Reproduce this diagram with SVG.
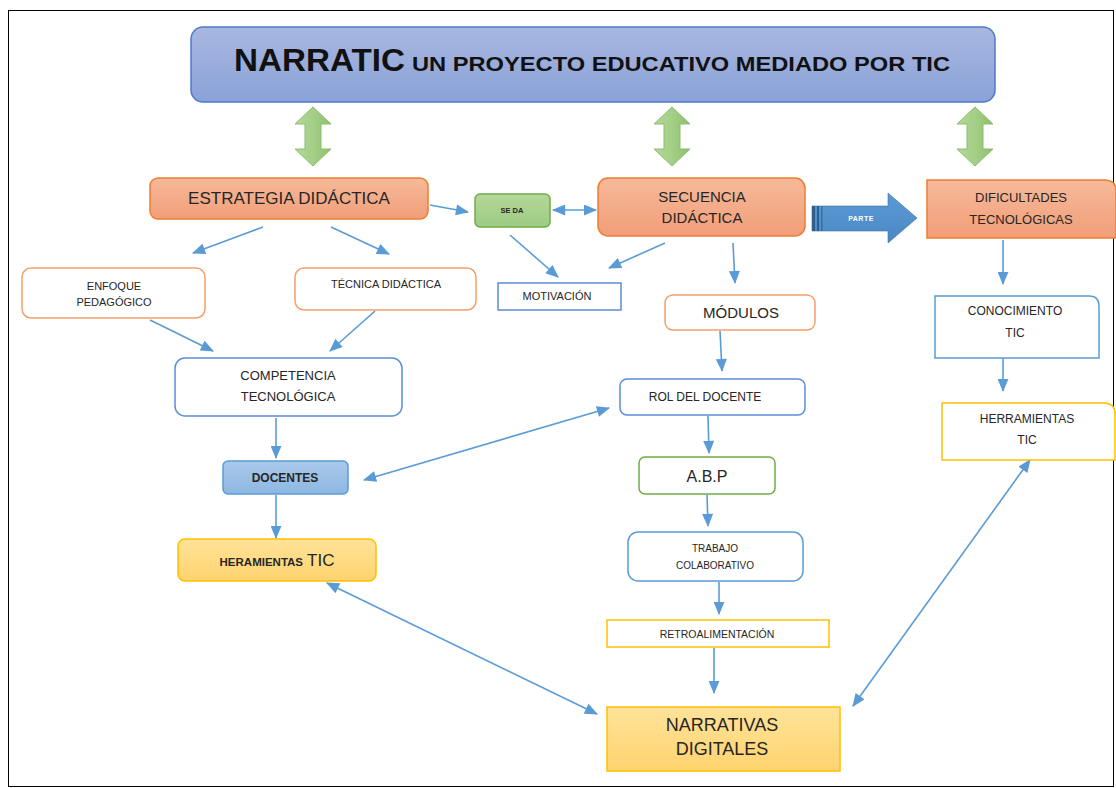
<svg xmlns="http://www.w3.org/2000/svg" width="1116" height="788" viewBox="0 0 1116 788">
<defs>
<linearGradient id="gTitle" x1="0" y1="0" x2="0" y2="1"><stop offset="0" stop-color="#a9b7e0"/><stop offset="1" stop-color="#8aa2d8"/></linearGradient>
<linearGradient id="gSalmon" x1="0" y1="0" x2="0" y2="1"><stop offset="0" stop-color="#f6b99a"/><stop offset="1" stop-color="#f29e78"/></linearGradient>
<linearGradient id="gGreen" x1="0" y1="0" x2="1" y2="0"><stop offset="0" stop-color="#b5d89c"/><stop offset="0.5" stop-color="#a3cf86"/><stop offset="1" stop-color="#8ec06e"/></linearGradient>
<linearGradient id="gSeda" x1="0" y1="0" x2="0" y2="1"><stop offset="0" stop-color="#b3d79b"/><stop offset="1" stop-color="#9fcb82"/></linearGradient>
<linearGradient id="gBlue" x1="0" y1="0" x2="0" y2="1"><stop offset="0" stop-color="#aac9ea"/><stop offset="1" stop-color="#8db7e2"/></linearGradient>
<linearGradient id="gYellow" x1="0" y1="0" x2="0" y2="1"><stop offset="0" stop-color="#ffe39a"/><stop offset="1" stop-color="#ffd36e"/></linearGradient>
<linearGradient id="gParte" x1="0" y1="0" x2="0" y2="1"><stop offset="0" stop-color="#5b9bd5"/><stop offset="1" stop-color="#4a88c4"/></linearGradient>
<marker id="ahb" viewBox="0 0 12 10" refX="11" refY="5" markerWidth="14" markerHeight="11" orient="auto-start-reverse" markerUnits="userSpaceOnUse"><path d="M0,0 L12,5 L0,10 z" fill="#5b9bd5"/></marker>
</defs>
<style>
.t{font-family:"Liberation Sans",Arial,sans-serif;fill:#262626;text-anchor:middle}
.c{stroke:#5b9bd5;stroke-width:1.6;fill:none;marker-end:url(#ahb)}
.d{stroke:#5b9bd5;stroke-width:1.6;fill:none;marker-end:url(#ahb);marker-start:url(#ahb)}
.ga{fill:url(#gGreen);stroke:#8bbd6b;stroke-width:1}
.sal{fill:url(#gSalmon);stroke:#ed7d31;stroke-width:1.5}
.wo{fill:#fff;stroke:#f4a06b;stroke-width:1.5}
.wb{fill:#fff;stroke:#5b8fd6;stroke-width:1.5}
.wy{fill:#fff;stroke:#ffc000;stroke-width:1.5}
</style>
<rect x="8.5" y="10.5" width="1105" height="776" fill="#fff" stroke="#000" stroke-width="1"/>

<g id="title">
<rect x="191" y="27" width="804" height="75" rx="12" fill="url(#gTitle)" stroke="#4f7ac7" stroke-width="1.5"/>
<text x="234" y="71" style="font-family:'Liberation Sans',Arial,sans-serif;font-weight:bold;fill:#111;font-size:31px" textLength="171" lengthAdjust="spacingAndGlyphs">NARRATIC</text>
<text x="412" y="71" style="font-family:'Liberation Sans',Arial,sans-serif;font-weight:bold;fill:#111;font-size:21px" textLength="538" lengthAdjust="spacingAndGlyphs">UN PROYECTO EDUCATIVO MEDIADO POR TIC</text>
</g>

<g id="green-arrows">
<path class="ga" d="M313,107 L331,124 L321,124 L321,149 L331,149 L313,166 L295,149 L305,149 L305,124 L295,124 Z"/>
<path class="ga" d="M672,107 L690,124 L680,124 L680,149 L690,149 L672,166 L654,149 L664,149 L664,124 L654,124 Z"/>
<path class="ga" d="M975,107 L993,124 L983,124 L983,149 L993,149 L975,166 L957,149 L967,149 L967,124 L957,124 Z"/>
</g>

<g id="parte">
<path d="M812,206 L888,206 L888,193 L917,218 L888,243 L888,231 L812,231 Z" fill="url(#gParte)" stroke="#41719c" stroke-width="0.6"/>
<rect x="812" y="206" width="3" height="25" fill="#2e5f8f"/>
<rect x="817" y="206" width="2" height="25" fill="#2e5f8f"/>
<rect x="821" y="206" width="1.5" height="25" fill="#3a6fa3"/>
<text x="861" y="221" class="t" style="font-size:7px;font-weight:bold;fill:#fff;letter-spacing:0.5px">PARTE</text>
</g>

<g id="connectors">
<line class="c" x1="430" y1="205" x2="468" y2="212"/>
<line class="d" x1="553" y1="210" x2="596" y2="210"/>
<line class="c" x1="263" y1="227" x2="193" y2="253"/>
<line class="c" x1="331" y1="227" x2="389" y2="254"/>
<line class="c" x1="510" y1="235" x2="558" y2="277"/>
<line class="c" x1="665" y1="243" x2="609" y2="268"/>
<line class="c" x1="733" y1="243" x2="735" y2="283"/>
<line class="c" x1="150" y1="320" x2="213" y2="351"/>
<line class="c" x1="375" y1="311" x2="330" y2="351"/>
<line class="c" x1="276" y1="418" x2="276" y2="458"/>
<line class="c" x1="720" y1="331" x2="722" y2="371"/>
<line class="d" x1="364" y1="480" x2="609" y2="408"/>
<line class="c" x1="708" y1="416" x2="709" y2="453"/>
<line class="c" x1="276" y1="495" x2="276" y2="538"/>
<line class="c" x1="707" y1="495" x2="708" y2="526"/>
<line class="c" x1="719" y1="582" x2="719" y2="614"/>
<line class="c" x1="714" y1="648" x2="714" y2="693"/>
<line class="d" x1="327" y1="583" x2="597" y2="714"/>
<line class="c" x1="1003" y1="240" x2="1003" y2="284"/>
<line class="c" x1="1003" y1="358" x2="1003" y2="391"/>
<line class="d" x1="1030" y1="460" x2="853" y2="706"/>
</g>

<g id="estrategia">
<rect x="150" y="178" width="278" height="41" rx="8" class="sal"/>
<text x="289" y="204" class="t" font-size="17">ESTRATEGIA DIDÁCTICA</text>
</g>
<g id="seda">
<rect x="475" y="194" width="75" height="33" rx="5" fill="url(#gSeda)" stroke="#70ad47" stroke-width="1.5"/>
<text x="512" y="213" class="t" style="font-size:7.5px;font-weight:bold">SE DA</text>
</g>
<g id="secuencia">
<rect x="598" y="178" width="207" height="58" rx="10" class="sal"/>
<text x="702" y="202" class="t" font-size="15">SECUENCIA</text>
<text x="702" y="223" class="t" font-size="15">DIDÁCTICA</text>
</g>
<g id="dificultades">
<path d="M927,180 L1105,180 Q1116,180 1116,191 L1116,238 L927,238 Z" class="sal"/>
<text x="1021" y="202" class="t" font-size="13">DIFICULTADES</text>
<text x="1021" y="224" class="t" font-size="13">TECNOLÓGICAS</text>
</g>
<g id="enfoque">
<rect x="22" y="268" width="183" height="50" rx="9" class="wo"/>
<text x="114" y="290" class="t" font-size="11">ENFOQUE</text>
<text x="114" y="306" class="t" font-size="11">PEDAGÓGICO</text>
</g>
<g id="tecnica">
<rect x="295" y="268" width="181" height="42" rx="9" class="wo"/>
<text x="386" y="288" class="t" font-size="11">TÉCNICA DIDÁCTICA</text>
</g>
<g id="motivacion">
<rect x="498" y="283" width="123" height="27" class="wb"/>
<text x="557" y="300" class="t" font-size="11">MOTIVACIÓN</text>
</g>
<g id="modulos">
<rect x="665" y="295" width="150" height="35" rx="8" class="wo"/>
<text x="741" y="318" class="t" font-size="15">MÓDULOS</text>
</g>
<g id="conocimiento">
<path d="M935,296 L1089,296 Q1099,296 1099,306 L1099,358 L935,358 Z" class="wb" style="stroke:#5b9bd5"/>
<text x="1015" y="315" class="t" font-size="12">CONOCIMIENTO</text>
<text x="1015" y="337" class="t" font-size="12">TIC</text>
</g>
<g id="herramientas-r">
<path d="M942,403 L1104,403 Q1115,403 1115,414 L1115,460 L942,460 Z" class="wy"/>
<text x="1027" y="423" class="t" font-size="12">HERRAMIENTAS</text>
<text x="1027" y="444" class="t" font-size="12">TIC</text>
</g>
<g id="competencia">
<rect x="175" y="358" width="227" height="58" rx="10" class="wb"/>
<text x="288" y="380" class="t" font-size="13">COMPETENCIA</text>
<text x="288" y="401" class="t" font-size="13">TECNOLÓGICA</text>
</g>
<g id="rol">
<rect x="620" y="379" width="185" height="36" rx="7" class="wb"/>
<text x="705" y="401" class="t" font-size="12">ROL DEL DOCENTE</text>
</g>
<g id="docentes">
<rect x="223" y="461" width="125" height="33" rx="5" fill="url(#gBlue)" stroke="#5b9bd5" stroke-width="1.5"/>
<text x="285" y="482" class="t" style="font-size:12px;font-weight:bold">DOCENTES</text>
</g>
<g id="abp">
<rect x="639" y="457" width="136" height="37" rx="6" fill="#fff" stroke="#70ad47" stroke-width="1.5"/>
<text x="707" y="482" class="t" font-size="16">A.B.P</text>
</g>
<g id="heramientas-l">
<rect x="178" y="539" width="198" height="42" rx="7" fill="url(#gYellow)" stroke="#ffc000" stroke-width="1.5"/>
<text x="277" y="566" class="t" style="font-weight:bold"><tspan font-size="11.5">HERAMIENTAS</tspan><tspan font-size="17" font-weight="normal" dx="4">TIC</tspan></text>
</g>
<g id="trabajo">
<rect x="628" y="532" width="175" height="49" rx="10" fill="#fff" stroke="#5b9bd5" stroke-width="1.5"/>
<text x="715" y="552" class="t" font-size="10">TRABAJO</text>
<text x="715" y="569" class="t" font-size="10">COLABORATIVO</text>
</g>
<g id="retro">
<rect x="607" y="620" width="222" height="27" class="wy"/>
<text x="717" y="638" class="t" font-size="10.5">RETROALIMENTACIÓN</text>
</g>
<g id="narrativas">
<rect x="607" y="707" width="233" height="64" fill="url(#gYellow)" stroke="#ffc000" stroke-width="1.5"/>
<text x="722" y="731" class="t" font-size="18">NARRATIVAS</text>
<text x="722" y="755" class="t" font-size="18">DIGITALES</text>
</g>
</svg>
